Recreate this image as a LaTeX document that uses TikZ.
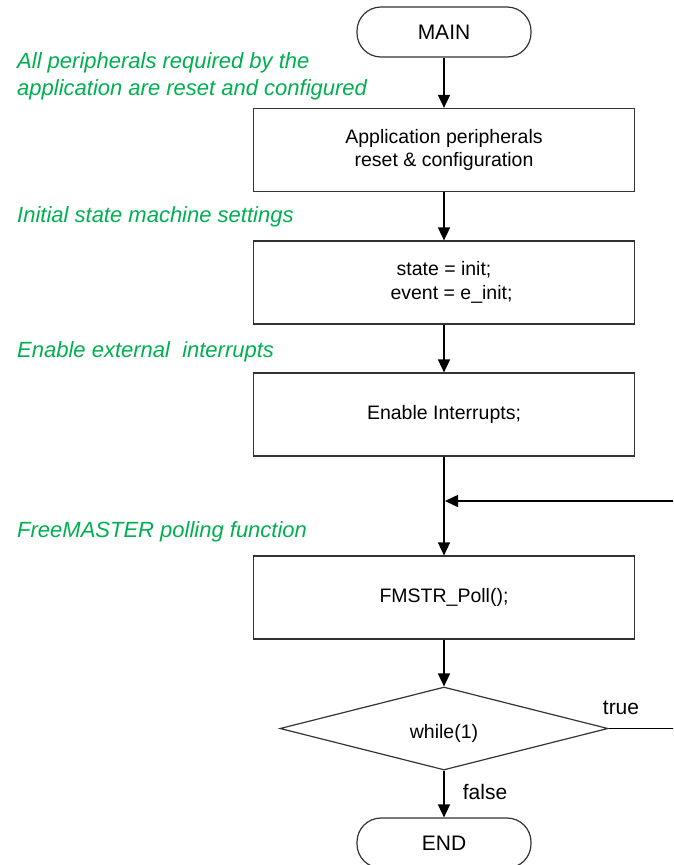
\documentclass[tikz,border=0pt]{standalone}
\usepackage{fontspec}
\setmainfont{Liberation Sans}
\usetikzlibrary{shapes.geometric,arrows.meta}
\definecolor{notegreen}{RGB}{0,176,80}
\begin{document}
\begin{tikzpicture}[x=1pt,y=-1pt,
  every node/.style={font=\fontsize{19.5}{23.5}\selectfont},
  terminal/.style={draw=black!80, line width=1.2pt, rectangle, rounded corners=24pt,
    minimum width=174pt, minimum height=50pt, inner sep=0pt,
    font=\fontsize{21}{25}\selectfont},
  process/.style={draw=black!80, line width=1.2pt, rectangle, minimum width=381pt,
    minimum height=83pt, align=center, inner sep=0pt},
  decision/.style={draw=black!80, line width=1.2pt, diamond, minimum width=328pt,
    minimum height=83pt, inner sep=0pt},
  note/.style={text=notegreen, anchor=west, align=left, inner sep=0pt,
    font=\fontsize{22}{27}\selectfont\itshape},
  flow/.style={line width=1.6pt, -{Triangle[length=13pt,width=12pt]}},
  plain/.style={line width=1.6pt},
  branch/.style={font=\fontsize{21}{25}\selectfont, inner sep=0pt}
]
\useasboundingbox (0,0) rectangle (673,865);
\clip (0,0) rectangle (673,865);

% flow chart blocks
\node[terminal] (main) at (444,32) {MAIN};
\node[process] (cfg) at (444,150) {Application peripherals\\reset \& configuration};
\node[process] (sm) at (444,282.5) {state = init;\\\hspace*{15pt}event = e\_init;};
\node[process] (irq) at (444,414.5) {Enable Interrupts;};
\node[process] (poll) at (444,597.5) {FMSTR\_Poll();};
\node[decision] (loop) at (444,728.5) {};
\node (looptxt) at (444,733) {while(1)};
\node[terminal] (endn) at (444,843) {END};

% comments beside the steps
\node[note] (n1) at (17,76.5) {All peripherals required by the\\application are reset and configured};
\node[note] (n2) at (17,217) {Initial state machine settings};
\node[note] (n3) at (17,352) {Enable external\ \ interrupts};
\node[note] (n4) at (17,532) {FreeMASTER polling function};

% connectors
\coordinate (join) at (445,501);
\coordinate (rtop) at (695,501);
\coordinate (rbot) at (695,728.5);
\draw[flow] (main) -- (cfg);
\draw[flow] (cfg) -- (sm);
\draw[flow] (sm) -- (irq);
\draw[flow] (irq) -- (poll);
\draw[flow] (poll) -- (loop.north);
\draw[flow] (loop.south) -- (endn);
\draw[flow] (loop.east) -- (rbot) -- (rtop) -- (join);

% branch labels
\node[branch] (ltrue) at (621,708) {true};
\node[branch] (lfalse) at (485,792) {false};
\end{tikzpicture}
\end{document}
